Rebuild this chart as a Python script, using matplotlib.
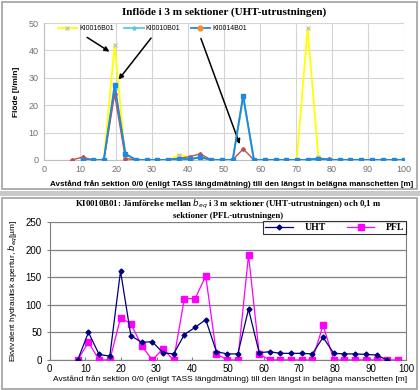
import matplotlib.pyplot as plt
from matplotlib.lines import Line2D
from matplotlib.patches import Rectangle

plt.rcParams["font.family"] = ["Liberation Sans", "DejaVu Sans"]

# ---- top chart data (flow per 3 m section) ----
x_top = [7.7, 10.7, 13.6, 16.6, 19.6, 22.6, 25.6, 28.5, 31.5, 34.5, 37.5, 40.4,
         43.4, 46.4, 49.4, 52.4, 55.3, 58.3, 61.3, 64.3, 67.3, 70.2, 73.2, 76.2,
         79.2, 82.2, 85.1, 88.1, 91.1, 94.1, 97.1, 100.0]
ki16 = [None, 0, 0, 0, 42, 0.5, 0, 0, 0, 0, 1.8, 1.0,
        0.3, 0, 0, 0, 22.5, 0, 0, 0, 0, 0, 48, 1.0,
        0, 0, 0, 0, 0, 0, 0, 0]
ki10 = [None, 0, 0, 0, 26, 2.0, 0, 0, 0, 0, 0.5, 0.2,
        1.0, 0, 0, 0, 23, 0, 0, 0, 0, 0, 0, 0.5,
        0, 0, 0, 0, 0, 0, 0, 0]
ki14 = [0, 1.0, 0, 0, 24, 0.5, 0, 0, 0, 0, 0.5, 1.2,
        2.2, 0, 0, 0, 4.0, 0, 0, 0, 0, 0, 0, 0.5,
        0.2, 0, 0, 0, 0, 0, 0, 0]
blue = [None, 0, 0, 0, 27.5, 2.2, 0, 0, 0, 0, 0.5, 0.2,
        1.0, 0, 0, 0, 23.5, 0, 0, 0, 0, 0, 0, 0.5,
        0, 0, 0, 0, 0, 0, 0, 0]

# ---- bottom chart data (hydraulic aperture) ----
x_bot = [7.9, 10.9, 13.9, 16.9, 19.9, 22.8, 25.8, 28.8, 31.8, 34.8, 37.8, 40.8,
         43.8, 46.8, 49.8, 52.8, 55.8, 58.8, 61.7, 64.7, 67.7, 70.7, 73.7, 76.7,
         79.7, 82.7, 85.7, 88.7, 91.7, 94.7, 97.7]
uht = [0, 50, 10, 7, 161, 44, 32, 33, 13, 11, 46, 59,
       73, 15, 11, 11, 92, 13, 15, 12, 12, 12, 11, 41,
       12, 11, 11, 10, 9, 0, None]
pfl = [0, 32, 0, 0, 76, 66, 26, 0, 20, 0, 111, 111,
       152, 11, 0, 0, 190, 11, 0, 0, 0, 0, 0, 63,
       0, 0, 0, 0, 0, 0, 0]

xlabel = "Avstånd från sektion 0/0 (enligt TASS längdmätning) till den längst in belägna manschetten [m]"

def clean(xs, ys):
    pts = [(a, b) for a, b in zip(xs, ys) if b is not None]
    return [p[0] for p in pts], [p[1] for p in pts]

fig = plt.figure(figsize=(4.2, 3.9), dpi=100)
fig.patch.set_facecolor("white")
# panel frames
fig.patches.append(Rectangle((0.004, 0.515), 0.99, 0.48, transform=fig.transFigure,
                             fill=False, edgecolor="#a0a0a0", lw=1.2))
fig.patches.append(Rectangle((0.0, 0.497), 1.0, 0.014, transform=fig.transFigure,
                             color="#c8c8c8", lw=0))
fig.patches.append(Rectangle((0.004, 0.003), 0.99, 0.49, transform=fig.transFigure,
                             fill=False, edgecolor="#a0a0a0", lw=1.2))

# ---------------- top chart ----------------
ax1 = fig.add_axes([0.105, 0.590, 0.857, 0.351])
ax1.set_xlim(0, 100)
ax1.set_ylim(0, 50)
ax1.set_xticks(range(0, 101, 10))
ax1.set_yticks(range(0, 51, 10))
ax1.grid(True, color="#d4d4d4", lw=0.8)
ax1.set_axisbelow(True)
for s in ["top", "right"]:
    ax1.spines[s].set_visible(False)
ax1.spines["left"].set_color("#bfbfbf")
ax1.spines["bottom"].set_color("#bfbfbf")
ax1.tick_params(length=0, labelsize=6.5, labelcolor="#707070", pad=4)

xs, ys = clean(x_top, ki16)
ax1.plot(xs, ys, color="#ffff00", lw=1.3, marker="x", ms=3, mec="#c8c8a0", zorder=3)
xs, ys = clean(x_top, ki10)
ax1.plot(xs, ys, color="#5bc8e8", lw=1.3, marker="*", ms=3, zorder=3)
xs, ys = clean(x_top, ki14)
ax1.plot(xs, ys, color="#c0504d", lw=1.0, marker="D", ms=2, zorder=4)
xs, ys = clean(x_top, blue)
ax1.plot(xs, ys, color="#1e88e5", lw=1.3, marker="s", ms=3.5, zorder=5)

handles = [Line2D([], [], color="#ffff00", lw=1.3, marker="x", ms=3, mec="#c8c8a0"),
           Line2D([], [], color="#5bc8e8", lw=1.3, marker="*", ms=3),
           Line2D([], [], color="#1e88e5", lw=1.3, marker="o", ms=3.5, mfc="#f28e2b", mec="#f28e2b")]
ax1.legend(handles, ["KI0016B01", "KI0010B01", "KI0014B01"], ncol=3, frameon=False,
           loc="upper left", bbox_to_anchor=(0.02, 1.03), fontsize=5, handlelength=2.8,
           columnspacing=1.5, handletextpad=0.3)

arrow = dict(arrowstyle="-|>", color="black", lw=1.1, mutation_scale=7)
ax1.annotate("", xy=(18.8, 39), xytext=(11.3, 45.3), arrowprops=arrow)
ax1.annotate("", xy=(20.2, 28.5), xytext=(30.2, 45.3), arrowprops=arrow)
ax1.annotate("", xy=(54.6, 4.8), xytext=(43.3, 45.3), arrowprops=arrow)

ax1.set_title("Inflöde i 3 m sektioner (UHT-utrustningen)", family="Liberation Serif",
              fontsize=8, fontweight="bold", pad=6)
ax1.set_ylabel("Flöde [l/min]", fontsize=6, fontweight="bold", labelpad=6)
ax1.set_xlabel(xlabel, fontsize=5.8, fontweight="bold", labelpad=2)
ax1.xaxis.set_label_coords(0.52, -0.15)

# ---------------- bottom chart ----------------
ax2 = fig.add_axes([0.118, 0.077, 0.849, 0.354])
ax2.set_xlim(0, 100)
ax2.set_ylim(0, 250)
ax2.set_xticks(range(0, 101, 10))
ax2.set_yticks(range(0, 251, 50))
ax2.yaxis.grid(True, color="#808080", lw=0.9)
ax2.set_axisbelow(True)
ax2.spines["top"].set_visible(False)
for s in ["left", "bottom", "right"]:
    ax2.spines[s].set_color("#808080")
ax2.tick_params(axis="both", length=2.5, color="#808080", labelsize=7, pad=3)
ax2.tick_params(axis="x", direction="in")
ax2.tick_params(axis="y", direction="out")

xs, ys = clean(x_bot, uht)
ax2.plot(xs, ys, color="#000080", lw=0.9, marker="D", ms=2.5, label="UHT", zorder=4)
xs, ys = clean(x_bot, pfl)
ax2.plot(xs, ys, color="#ff00ff", lw=0.9, marker="s", ms=4.5, label="PFL", zorder=3)
leg = ax2.legend(ncol=2, loc="upper right", bbox_to_anchor=(1.0, 1.005), fancybox=False,
                 edgecolor="black", prop={"family": "Liberation Serif", "weight": "bold", "size": 7},
                 handlelength=2.8, columnspacing=2.2, handletextpad=1.2, borderpad=0.2,
                 borderaxespad=0)
leg.get_frame().set_linewidth(0.8)

ax2.set_title("KI0010B01: Jämförelse mellan $b_{eq}$ i 3 m sektioner (UHT-utrustningen) och 0,1 m\n"
              "sektioner (PFL-utrustningen)", family="Liberation Serif", fontsize=6.3,
              fontweight="bold", pad=3, linespacing=1.2)
ax2.set_ylabel("Ekvivalent hydraulisk apertur, $b_{eq}$[µm]", fontsize=6, labelpad=4)
ax2.set_xlabel(xlabel, fontsize=6, labelpad=1)
ax2.xaxis.set_label_coords(0.505, -0.11)

fig.savefig("out.png", dpi=100)
